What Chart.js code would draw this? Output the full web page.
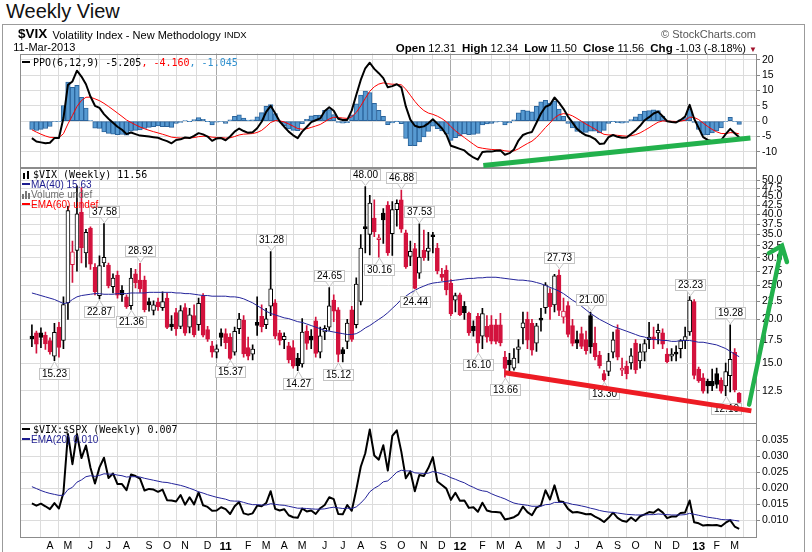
<!DOCTYPE html>
<html>
<head>
<meta charset="utf-8">
<script src="https://cdn.jsdelivr.net/npm/chart.js@4.4.0/dist/chart.umd.min.js"></script>
<style>
  html, body { margin: 0; padding: 0; background: #fff; }
  #wrap { position: relative; width: 812px; height: 552px; overflow: hidden; font-family: "Liberation Sans", Arial, sans-serif; }
  #chart { position: absolute; left: 0; top: 0; }
  .t { position: absolute; white-space: nowrap; font-size: 10px; line-height: 10px; color: #000; }
  .m { font-family: "DejaVu Sans Mono", monospace; }
  .dash { display: inline-block; width: 8px; height: 2px; vertical-align: 3px; margin-right: 3px; }
  .ic { display: inline-block; position: relative; width: 9px; height: 8px; margin-right: 2px; vertical-align: -1px; }
  .ic i { position: absolute; width: 2px; bottom: 0; }
</style>
</head>
<body>
<div id="wrap">
  <div class="t" style="left:6px;top:1px;font-size:20px;line-height:20px;color:#111">Weekly View</div>
  <div style="position:absolute;left:2px;top:24px;width:801px;height:560px;border:1px solid #9b9b9b"></div>
  <canvas id="chart" width="812" height="552" style="width:812px;height:552px"></canvas>

  <div class="t" style="left:18px;top:26.6px;font-size:13.5px;line-height:14px;font-weight:bold">$VIX</div>
  <div class="t" style="left:52.5px;top:28.5px;font-size:11px;line-height:12px">Volatility Index - New Methodology</div>
  <div class="t" style="left:224px;top:30px;font-size:9.5px;line-height:10px">INDX</div>
  <div class="t" style="left:13.3px;top:40.9px;font-size:11px;line-height:12px">11-Mar-2013</div>
  <div class="t" style="right:56px;top:28px;font-size:11px;line-height:12px;color:#555">&copy; StockCharts.com</div>
  <div class="t" style="right:55px;top:42px;font-size:11px;line-height:12px"><b style="font-size:11.5px">Open</b> 12.31&nbsp; <b style="font-size:11.5px">High</b> 12.34&nbsp; <b style="font-size:11.5px">Low</b> 11.50&nbsp; <b style="font-size:11.5px">Close</b> 11.56&nbsp; <b style="font-size:11.5px">Chg</b> -1.03 (-8.18%) <span style="color:#a0102a;font-size:8px">&#9660;</span></div>

  <div class="t m" style="left:22px;top:58px"><span class="dash" style="background:#000"></span>PPO(6,12,9) -5.205<span style="color:#ff0000">, -4.160</span><span style="color:#2e8fce">, -1.045</span></div>

  <div class="t m" style="left:22px;top:169.8px"><span class="ic"><i style="left:1px;height:6px;background:#000"></i><i style="left:5px;height:8px;background:#000"></i></span>$VIX (Weekly) 11.56</div>
  <div class="t" style="left:22px;top:179.8px;color:#1c1c8f"><span class="dash" style="background:#1c1c8f;margin-right:1px"></span>MA(40) 15.63</div>
  <div class="t" style="left:22px;top:189.8px;color:#6e6e6e"><span class="ic" style="width:9px;margin-right:0"><i style="left:0;height:5px;background:#777"></i><i style="left:3px;height:8px;background:#777"></i><i style="left:6px;height:6px;background:#777"></i></span>Volume undef</div>
  <div class="t" style="left:22px;top:199.8px;color:#ff0000"><span class="dash" style="background:#ff0000;margin-right:1px"></span>EMA(60) undef</div>

  <div class="t m" style="left:22px;top:424.8px"><span class="dash" style="background:#000"></span>$VIX:$SPX (Weekly) 0.007</div>
  <div class="t" style="left:22px;top:435px;color:#1c1c8f"><span class="dash" style="background:#1c1c8f;margin-right:1px"></span>EMA(20) 0.010</div>
</div>

<script>
// weekly candles, Mar 8 2010 .. Mar 11 2013 (one value per week)
const open = [17.9,18.3,18.3,18.0,17.4,15.7,19.0,17.4,22.3,28.7,
  31.5,40.5,31.0,36.5,28.2,23.4,29.0,28.6,24.8,26.8,
  24.2,23.2,21.9,27.0,25.9,25.9,22.5,21.2,22.4,21.6,
  23.0,19.4,20.9,19.1,21.6,19.0,20.5,19.3,23.3,18.7,
  16.8,16.1,18.3,18.2,17.8,16.1,18.8,19.9,16.6,15.9,
  19.6,20.4,19.3,21.8,22.3,18.3,17.5,16.8,16.6,15.5,
  14.9,18.5,17.9,19.8,16.1,18.4,19.0,22.7,21.3,16.4,
  17.3,21.3,19.3,22.5,36.9,35.0,39.0,33.8,40.3,42.5,
  35.2,41.2,44.0,35.4,30.3,31.9,27.1,31.6,31.3,34.8,
  32.0,26.9,27.7,25.4,22.7,23.5,21.8,20.8,19.1,20.4,
  17.9,19.1,19.3,19.3,19.3,15.6,15.3,14.5,16.4,18.9,
  20.0,19.5,17.1,19.95,21.6,23.8,22.0,26.8,20.3,21.9,
  19.2,17.5,18.2,17.5,20.5,17.1,15.8,14.0,14.2,16.1,
  18.7,14.3,14.7,15.0,17.1,15.2,16.1,17.5,17.7,18.3,
  18.3,15.9,15.7,16.0,16.5,17.4,18.4,22.5,14.4,13.6,
  13.3,13.3,14.0,13.4,12.9,13.8,16.1,12.31];
const high = [19.3,18.5,18.9,18.4,17.7,19.5,19.6,23.2,42.15,33.5,
  48.2,47.7,36.2,36.8,28.9,30.4,37.58,29.0,27.0,27.5,
  25.0,23.5,28.0,27.8,28.92,26.6,23.0,22.6,23.0,24.0,
  23.8,20.5,21.5,21.9,22.2,21.5,22.0,23.0,23.7,19.1,
  17.3,16.9,18.8,18.8,18.2,19.0,20.8,20.5,17.8,16.9,
  23.2,22.0,21.5,31.28,22.8,18.6,18.3,17.2,17.4,16.0,
  20.1,19.2,18.7,20.3,19.0,19.2,24.65,23.5,21.6,16.6,
  20.0,21.8,26.3,35.0,48.00,45.3,44.0,35.0,41.5,43.5,
  43.5,44.0,46.88,36.0,33.5,33.0,37.53,36.0,35.5,35.5,
  33.0,28.0,28.5,26.0,23.8,23.8,22.5,21.0,19.8,20.8,
  21.5,20.5,20.5,20.0,20.8,16.2,16.0,16.5,17.5,21.0,
  21.0,20.0,19.5,21.5,25.5,24.5,26.9,27.73,23.0,22.5,
  20.0,18.5,19.0,18.5,21.00,19.0,16.2,14.3,16.0,18.4,
  19.3,15.5,15.2,16.5,17.5,17.0,17.5,19.6,19.0,19.4,
  18.8,16.5,16.5,16.8,17.5,19.0,23.23,22.8,14.6,14.0,
  13.5,14.4,14.5,13.6,15.0,19.28,16.5,12.34];
const low = [16.7,16.0,16.6,16.4,15.9,15.23,15.6,16.5,20.0,25.5,
  27.5,29.0,28.2,27.8,23.5,22.87,28.3,24.6,23.8,23.0,
  22.5,21.5,21.36,24.6,23.9,21.0,21.1,20.6,21.2,21.2,
  18.8,18.6,18.0,18.8,18.0,18.3,17.8,18.6,17.8,17.3,
  15.6,15.5,16.8,16.5,15.37,15.8,18.2,15.6,15.3,15.3,
  18.0,18.4,18.8,20.5,17.6,16.9,16.5,15.0,14.5,14.27,
  14.6,16.4,16.5,15.6,15.5,17.5,18.6,19.7,15.12,15.1,
  16.5,17.3,18.9,22.0,31.0,30.6,34.5,30.16,33.0,30.5,
  30.5,37.0,35.5,28.0,28.5,24.44,26.2,29.5,29.5,31.0,
  27.0,25.8,23.5,20.5,21.0,20.5,20.0,18.0,17.9,16.10,
  16.5,17.2,17.0,17.0,16.8,13.66,14.0,14.3,15.0,17.0,
  16.5,15.8,16.2,18.5,20.8,20.0,21.0,20.5,19.5,17.8,
  16.8,16.5,16.5,15.9,16.0,15.3,14.5,13.30,13.8,15.5,
  15.3,13.8,13.5,14.4,14.0,14.5,15.2,16.5,16.5,17.0,
  16.5,15.0,15.2,15.2,15.5,16.5,18.0,13.5,13.2,12.3,
  12.3,12.5,12.7,12.3,12.10,12.4,12.4,11.50];
const close = [17.58,16.97,17.77,17.02,16.14,18.36,16.62,22.05,40.95,31.24,
  40.10,32.07,35.48,28.79,23.95,28.53,30.12,24.98,26.25,23.47,
  23.50,21.74,26.24,25.49,24.45,21.31,21.99,22.01,21.71,22.50,
  18.96,19.07,18.78,21.20,18.26,20.61,18.04,22.22,18.01,17.55,
  16.11,16.47,17.75,17.14,15.46,18.47,20.04,15.93,15.69,16.43,
  19.22,19.06,20.08,24.44,17.91,17.40,17.87,15.32,14.69,14.75,
  18.40,17.07,17.43,15.98,17.95,18.86,21.85,21.10,15.87,15.95,
  19.53,17.52,25.25,32.00,36.36,43.05,35.59,33.92,38.52,30.98,
  41.25,42.96,36.27,28.24,31.32,24.53,30.16,30.04,32.00,34.47,
  27.52,26.38,24.29,20.73,23.40,20.63,20.91,18.28,18.53,17.10,
  20.79,17.78,17.31,17.29,17.11,14.47,14.82,15.50,16.70,19.55,
  17.44,16.32,19.16,19.89,25.10,21.76,26.66,21.23,21.11,18.11,
  17.08,17.10,16.74,16.27,16.70,15.64,14.74,13.45,15.18,17.47,
  15.60,14.51,13.98,15.73,14.33,16.14,17.06,17.81,17.59,18.61,
  16.99,15.14,15.87,15.90,17.36,17.84,22.72,13.83,13.36,12.46,
  12.89,12.90,13.02,12.46,14.17,15.36,12.59,11.56];
const ma40 = [23.8,23.6,23.4,23.2,23.0,22.8,22.5,22.2,22.3,22.8,
  23.2,23.4,23.5,23.6,23.7,23.7,23.6,23.6,23.6,23.7,
  23.7,23.7,23.8,23.8,23.8,23.8,23.9,23.9,23.9,23.9,
  23.9,23.9,23.8,23.8,23.7,23.7,23.6,23.5,23.4,23.4,
  23.3,23.3,23.3,23.3,23.2,23.2,23.1,22.9,22.6,22.3,
  21.9,21.5,21.1,20.8,20.6,20.4,20.2,20.1,19.9,19.7,
  19.6,19.4,19.2,19.0,18.8,18.6,18.5,18.4,18.3,18.2,
  18.1,18.1,18.2,18.5,18.9,19.2,19.6,20.0,20.4,20.9,
  21.5,22.1,22.8,23.3,23.8,24.2,24.6,24.9,25.2,25.4,
  25.5,25.6,25.7,25.8,25.9,26.0,26.1,26.2,26.2,26.3,
  26.3,26.4,26.4,26.4,26.3,26.2,26.1,26.0,25.9,25.9,
  25.8,25.7,25.5,25.3,25.0,24.7,24.4,24.1,23.7,23.2,
  22.7,22.3,21.8,21.3,20.8,20.4,20.0,19.7,19.4,19.1,
  18.9,18.7,18.5,18.3,18.1,17.9,17.8,17.6,17.5,17.5,
  17.4,17.4,17.3,17.3,17.4,17.4,17.4,17.3,17.2,17.2,
  17.1,17.0,16.9,16.7,16.5,16.2,15.9,15.63];

// PPO(6,12,9) panel
const ppo = [-5.5,-6.6,-6.9,-7.2,-7.0,-5.5,-5.5,1.0,11.8,12.9,
  16.4,14.5,12.0,8.0,5.0,4.3,2.3,0.8,-0.5,-1.8,
  -2.8,-4.2,-3.7,-4.2,-4.7,-4.8,-5.0,-5.2,-5.4,-6.0,
  -6.5,-7.2,-6.1,-5.9,-5.3,-5.5,-4.8,-3.9,-4.3,-5.0,
  -6.4,-5.6,-5.5,-6.2,-5.0,-3.4,-2.4,-3.2,-3.8,-3.6,
  -2.3,-0.2,3.0,5.0,2.6,-0.1,-1.8,-3.4,-4.6,-5.5,
  -3.4,-1.9,-0.3,0.3,0.9,3.3,4.5,3.4,0.8,0.4,
  0.4,3.5,8.5,13.4,17.2,19.0,17.0,15.6,14.0,11.0,
  11.4,12.0,11.0,4.8,0.5,-1.5,-2.0,-1.7,-0.7,0.6,
  -0.8,-2.3,-4.4,-8.0,-8.5,-9.0,-9.5,-10.8,-11.8,-12.5,
  -10.0,-9.9,-9.9,-9.6,-9.5,-10.9,-10.4,-9.2,-6.3,-4.5,
  -3.9,-3.5,-0.5,2.5,4.7,5.3,7.7,6.0,4.0,1.5,
  -0.5,-2.5,-3.7,-4.6,-5.0,-5.8,-7.4,-7.3,-5.2,-4.5,
  -5.1,-5.4,-5.3,-4.2,-3.0,-1.5,0.3,1.3,2.5,3.1,
  1.6,0.0,-0.3,-0.4,0.4,1.5,5.3,0.8,-2.2,-5.2,
  -6.1,-6.5,-6.6,-6.2,-4.2,-2.5,-3.9,-5.205];
const ppoSignal = [-2.80,-3.56,-4.23,-4.82,-5.26,-5.31,-5.35,-4.08,-0.90,1.86,
  4.77,6.72,7.77,7.82,7.25,6.66,5.79,4.79,3.73,2.63,
  1.54,0.39,-0.43,-1.18,-1.89,-2.47,-2.97,-3.42,-3.82,-4.25,
  -4.70,-5.20,-5.38,-5.48,-5.45,-5.46,-5.33,-5.04,-4.89,-4.91,
  -5.21,-5.29,-5.33,-5.50,-5.40,-5.00,-4.48,-4.22,-4.14,-4.03,
  -3.68,-2.99,-1.79,-0.43,0.17,0.12,-0.27,-0.89,-1.63,-2.41,
  -2.61,-2.47,-2.03,-1.57,-1.07,-0.20,0.74,1.27,1.18,1.02,
  0.90,1.42,2.83,4.95,7.40,9.72,11.18,12.06,12.45,12.16,
  12.01,12.01,11.81,10.41,8.43,6.44,4.75,3.46,2.63,2.22,
  1.62,0.84,-0.21,-1.77,-3.12,-4.30,-5.34,-6.43,-7.50,-8.50,
  -8.80,-9.02,-9.20,-9.28,-9.32,-9.64,-9.79,-9.67,-9.00,-8.10,
  -7.26,-6.51,-5.31,-3.75,-2.06,-0.59,1.07,2.06,2.45,2.26,
  1.71,0.87,-0.04,-0.95,-1.76,-2.57,-3.54,-4.29,-4.47,-4.48,
  -4.60,-4.76,-4.87,-4.74,-4.39,-3.81,-2.99,-2.13,-1.20,-0.34,
  0.05,0.04,-0.03,-0.10,0.00,0.30,1.30,1.20,0.52,-0.62,
  -1.72,-2.68,-3.46,-4.01,-4.05,-3.74,-3.77,-4.160];
const ppoHist = [-2.70,-3.04,-2.67,-2.38,-1.74,-0.19,-0.15,5.08,12.70,11.04,
  11.63,7.78,4.23,0.18,-2.25,-2.36,-3.49,-3.99,-4.23,-4.43,
  -4.34,-4.59,-3.27,-3.02,-2.81,-2.33,-2.03,-1.78,-1.58,-1.75,
  -1.80,-2.00,-0.72,-0.42,0.15,-0.04,0.53,1.14,0.59,-0.09,
  -1.19,-0.31,-0.17,-0.70,0.40,1.60,2.08,1.02,0.34,0.43,
  1.38,2.79,4.79,5.43,2.43,-0.22,-1.53,-2.51,-2.97,-3.09,
  -0.79,0.57,1.73,1.87,1.97,3.50,3.76,2.13,-0.38,-0.62,
  -0.50,2.08,5.67,8.45,9.80,9.28,5.82,3.54,1.55,-1.16,
  -0.61,-0.01,-0.81,-5.61,-7.93,-7.94,-6.75,-5.16,-3.33,-1.62,
  -2.42,-3.14,-4.19,-6.23,-5.38,-4.70,-4.16,-4.37,-4.30,-4.00,
  -1.20,-0.88,-0.70,-0.32,-0.18,-1.26,-0.61,0.47,2.70,3.60,
  3.36,3.01,4.81,6.25,6.76,5.89,6.63,3.94,1.55,-0.76,
  -2.21,-3.37,-3.66,-3.65,-3.24,-3.23,-3.86,-3.01,-0.73,-0.02,
  -0.50,-0.64,-0.43,0.54,1.39,2.31,3.29,3.43,3.70,3.44,
  1.55,-0.04,-0.27,-0.30,0.40,1.20,4.00,-0.40,-2.72,-4.58,
  -4.38,-3.82,-3.14,-2.19,-0.15,1.24,-0.13,-1.045];

// $VIX:$SPX panel
const ratio = [.0153,.0146,.0152,.0144,.0135,.0154,.0137,.0186,.0369,.0275,
  .0369,.0294,.0333,.0264,.0215,.0265,.0295,.0232,.0246,.0213,
  .0213,.0194,.0243,.0238,.0230,.0193,.0198,.0196,.0189,.0196,
  .0163,.0162,.0159,.0179,.0149,.0172,.0150,.0187,.0147,.0142,
  .0130,.0131,.0141,.0135,.0120,.0144,.0157,.0122,.0118,.0122,
  .0146,.0144,.0154,.0191,.0136,.0131,.0135,.0116,.0110,.0108,
  .0137,.0128,.0131,.0120,.0138,.0148,.0172,.0166,.0120,.0119,
  .0148,.0130,.0195,.0267,.0309,.0383,.0302,.0289,.0334,.0255,
  .0363,.0380,.0314,.0231,.0253,.0191,.0241,.0238,.0263,.0297,
  .0221,.0210,.0199,.0164,.0186,.0161,.0162,.0139,.0141,.0127,
  .0155,.0131,.0127,.0126,.0125,.0103,.0106,.0110,.0119,.0143,
  .0126,.0116,.0140,.0147,.0194,.0165,.0209,.0160,.0157,.0136,
  .0125,.0126,.0123,.0119,.0120,.0112,.0105,.0095,.0108,.0124,
  .0108,.0099,.0096,.0109,.0098,.0113,.0119,.0126,.0124,.0135,
  .0125,.0107,.0112,.0112,.0123,.0125,.0162,.0094,.0091,.0084,
  .0086,.0085,.0086,.0082,.0093,.0101,.0081,.0074];
const ratioEma = [.0205,.0199,.0193,.0188,.0184,.0181,.0178,.0178,.0196,.0203,
  .0219,.0226,.0236,.0239,.0237,.0240,.0245,.0244,.0244,.0241,
  .0239,.0235,.0236,.0236,.0235,.0231,.0228,.0225,.0222,.0219,
  .0218,.0215,.0212,.0209,.0205,.0200,.0195,.0189,.0185,.0180,
  .0176,.0172,.0169,.0166,.0161,.0160,.0160,.0156,.0152,.0149,
  .0149,.0148,.0148,.0152,.0150,.0148,.0147,.0144,.0141,.0138,
  .0138,.0137,.0136,.0135,.0135,.0136,.0139,.0141,.0139,.0137,
  .0138,.0137,.0142,.0154,.0169,.0189,.0200,.0208,.0220,.0223,
  .0236,.0250,.0256,.0254,.0254,.0248,.0247,.0246,.0247,.0252,
  .0249,.0245,.0240,.0233,.0228,.0222,.0217,.0209,.0203,.0196,
  .0192,.0190,.0183,.0177,.0172,.0167,.0160,.0154,.0151,.0149,
  .0147,.0144,.0144,.0144,.0149,.0150,.0156,.0156,.0156,.0154,
  .0150,.0148,.0145,.0142,.0138,.0135,.0131,.0128,.0126,.0125,
  .0123,.0121,.0119,.0118,.0117,.0117,.0117,.0118,.0118,.0120,
  .0119,.0118,.0117,.0117,.0117,.0118,.0122,.0119,.0116,.0113,
  .0110,.0108,.0106,.0103,.0102,.0102,.0100,.0098];

// month ticks (week index of the first Monday of each month)
const tickWeeks = [4,8,13,17,21,26,30,34,39,43,48,52,56,60,65,69,73,78,82,87,91,95,
  100,104,108,113,117,121,126,130,134,139,143,148,152,156];
const tickLabels = ['A','M','J','J','A','S','O','N','D','11','F','M','A','M','J','J','A','S','O','N','D','12',
  'F','M','A','M','J','J','A','S','O','N','D','13','F','M'];
const ppoTicks = [-10,-5,0,5,10,15,20];
const vixTicks = [12.5,15,17.5,20,22.5,25,27.5,30,32.5,35,37.5,40,42.5,45,47.5,50];
const ratioTicks = [0.010,0.015,0.020,0.025,0.030,0.035];

// price flags: week index and which end of the bar
const flagWeek = [5,15,16,22,24,44,53,59,66,68,74,77,82,85,86,99,105,117,124,127,146,154,155];
const flagSide = ['L','L','H','L','H','L','H','L','H','L','H','L','H','L','H','L','L','H','H','L','H','L','H'];

// hand-drawn trend marks, in (week, value) terms
const greenWeek = [100.2, 159.5], greenPpo = [-14.45, -5.5];
const redWeek = [105, 159.7], redVix = [14.06, 10.94];
const arrowWeek = [159.2, 166.5], arrowVix = [11.4, 32.5];

const weeks = close.map((c, i) => i);
const RED = '#d3123d';
const upWeek = close.map((c, i) => i === 0 || c >= close[i - 1]);
const barColor = upWeek.map(u => u ? '#000000' : RED);
const bodyFill = close.map((c, i) => c < open[i] ? barColor[i] : '#ffffff');

const axisFont = { family: 'Liberation Sans', size: 10.5 };
const isYear = i => (tickLabels[i] || '').length === 2;

const overlay = {
  id: 'overlay',
  afterDatasetsDraw(chart) {
    const { ctx, chartArea: a, scales: s } = chart;
    ctx.save();
    // panel frames
    ctx.strokeStyle = '#8c8c8c';
    ctx.lineWidth = 1;
    ['yPpo', 'yVix', 'yRatio'].forEach(id => {
      const sc = s[id];
      ctx.strokeRect(Math.round(a.left) + 0.5, Math.round(sc.top) + 0.5,
        Math.round(a.right - a.left) - 1, Math.round(sc.bottom - sc.top));
    });
    // price flags
    ctx.font = '10px "Liberation Sans", Arial';
    ctx.textAlign = 'center';
    ctx.textBaseline = 'middle';
    flagWeek.forEach((w, k) => {
      const up = flagSide[k] === 'H';
      const v = up ? high[w] : low[w];
      const x = Math.round(s.x.getPixelForValue(w)) + 0.5;
      const tip = s.yVix.getPixelForValue(v) + (up ? -1 : 1);
      const txt = v.toFixed(2);
      const bw = Math.round(ctx.measureText(txt).width + 5), bh = 11;
      const by = Math.round(up ? tip - 6 - bh : tip + 6) + 0.5;
      const edge = up ? by + bh : by;
      ctx.fillStyle = '#fff';
      ctx.strokeStyle = '#c4c4c4';
      ctx.fillRect(x - bw / 2, by, bw, bh);
      ctx.strokeRect(x - bw / 2, by, bw, bh);
      ctx.beginPath();
      ctx.moveTo(x - 4, edge);
      ctx.lineTo(x, tip);
      ctx.lineTo(x + 4, edge);
      ctx.fill();
      ctx.stroke();
      ctx.fillStyle = '#000';
      ctx.fillText(txt, x, by + bh / 2 + 0.5);
    });
    ctx.restore();
  },
  afterDraw(chart) {
    const { ctx, scales: s } = chart;
    const px = w => s.x.getPixelForValue(w);
    ctx.save();
    ctx.lineCap = 'butt';
    ctx.lineWidth = 5;
    ctx.strokeStyle = '#22b14c';
    ctx.beginPath();
    ctx.moveTo(px(greenWeek[0]), s.yPpo.getPixelForValue(greenPpo[0]));
    ctx.lineTo(px(greenWeek[1]), s.yPpo.getPixelForValue(greenPpo[1]));
    ctx.stroke();
    ctx.strokeStyle = '#ed1c24';
    ctx.beginPath();
    ctx.moveTo(px(redWeek[0]), s.yVix.getPixelForValue(redVix[0]));
    ctx.lineTo(px(redWeek[1]), s.yVix.getPixelForValue(redVix[1]));
    ctx.stroke();
    // arrow
    const x0 = px(arrowWeek[0]), y0 = s.yVix.getPixelForValue(arrowVix[0]);
    const x1 = px(arrowWeek[1]), y1 = s.yVix.getPixelForValue(arrowVix[1]);
    const ang = Math.atan2(y0 - y1, x0 - x1);
    ctx.strokeStyle = '#22b14c';
    ctx.lineWidth = 4.5;
    ctx.lineCap = 'round';
    ctx.beginPath();
    ctx.moveTo(x0, y0);
    ctx.lineTo(x1, y1);
    ctx.moveTo(x1 + 15 * Math.cos(ang + 0.85), y1 + 15 * Math.sin(ang + 0.85));
    ctx.lineTo(x1, y1);
    ctx.lineTo(x1 + 17 * Math.cos(ang - 0.5), y1 + 17 * Math.sin(ang - 0.5));
    ctx.stroke();
    ctx.restore();
  }
};

function yAxis(extra) {
  return Object.assign({
    position: 'right',
    stack: 'panels',
    afterFit: sc => { sc.width = 55; },
    grid: { color: '#dcdcdc', tickLength: 3, tickColor: '#888' },
    border: { display: false },
    ticks: { autoSkip: false, padding: 2, color: '#000', font: axisFont }
  }, extra);
}

new Chart(document.getElementById('chart'), {
  type: 'bar',
  data: {
    labels: weeks,
    datasets: [
      { type: 'bar', data: low.map((l, i) => [l, high[i]]), yAxisID: 'yVix', grouped: false,
        barThickness: 1, backgroundColor: barColor, borderWidth: 0, order: 10 },
      { type: 'bar', data: open.map((o, i) => [o, close[i]]), yAxisID: 'yVix', grouped: false,
        barThickness: 4, minBarLength: 2, backgroundColor: bodyFill, borderColor: barColor,
        borderWidth: 1, borderSkipped: false, order: 9 },
      { type: 'line', data: ma40, yAxisID: 'yVix', borderColor: '#23239a', borderWidth: 1,
        pointRadius: 0, order: 1 },
      { type: 'bar', data: ppoHist, yAxisID: 'yPpo', grouped: false, barPercentage: 1,
        categoryPercentage: 1, backgroundColor: '#579ad2', borderColor: '#2b649c',
        borderWidth: 1, borderSkipped: false, order: 8 },
      { type: 'line', data: ppoSignal, yAxisID: 'yPpo', borderColor: '#ff0000', borderWidth: 1,
        pointRadius: 0, order: 7 },
      { type: 'line', data: ppo, yAxisID: 'yPpo', borderColor: '#000', borderWidth: 2,
        borderJoinStyle: 'round', pointRadius: 0, order: 6 },
      { type: 'line', data: ratio, yAxisID: 'yRatio', borderColor: '#000', borderWidth: 2,
        borderJoinStyle: 'round', pointRadius: 0, order: 3 },
      { type: 'line', data: ratioEma, yAxisID: 'yRatio', borderColor: '#23239a', borderWidth: 1,
        pointRadius: 0, order: 2 }
    ]
  },
  options: {
    responsive: false,
    animation: false,
    events: [],
    layout: { padding: { left: 20, top: 53.5, right: 0, bottom: 0 } },
    plugins: { legend: { display: false }, tooltip: { enabled: false } },
    scales: {
      x: {
        type: 'linear', min: -0.37, max: 158.68,
        afterBuildTicks: sc => { sc.ticks = tickWeeks.map(v => ({ value: v })); },
        afterFit: sc => { sc.height = 15.5; },
        grid: { color: c => isYear(c.index) ? '#a9a9a9' : '#dcdcdc', drawTicks: false },
        border: { display: false },
        ticks: {
          autoSkip: false, maxRotation: 0, padding: 3, color: '#000',
          callback: (v, i) => tickLabels[i],
          font: c => isYear(c.index) ? { family: 'Liberation Sans', size: 11.5, weight: 'bold' } : axisFont
        }
      },
      yPpo: yAxis({
        type: 'linear', min: -15, max: 22, stackWeight: 113.8,
        afterBuildTicks: sc => { sc.ticks = ppoTicks.map(v => ({ value: v })); },
        ticks: { autoSkip: false, padding: 2, color: '#000', font: axisFont, callback: v => String(v) }
      }),
      yVix: yAxis({
        type: 'logarithmic', min: 10.1, max: 54.5, stackWeight: 255.7,
        afterBuildTicks: sc => { sc.ticks = vixTicks.map(v => ({ value: v })); },
        ticks: { autoSkip: false, padding: 2, color: '#000', font: axisFont, callback: v => v.toFixed(1) }
      }),
      yRatio: yAxis({
        type: 'linear', min: 0.005, max: 0.0403, stackWeight: 113.5,
        afterBuildTicks: sc => { sc.ticks = ratioTicks.map(v => ({ value: v })); },
        ticks: { autoSkip: false, padding: 2, color: '#000', font: axisFont, callback: v => v.toFixed(3) }
      })
    }
  },
  plugins: [overlay]
});
</script>
</body>
</html>
